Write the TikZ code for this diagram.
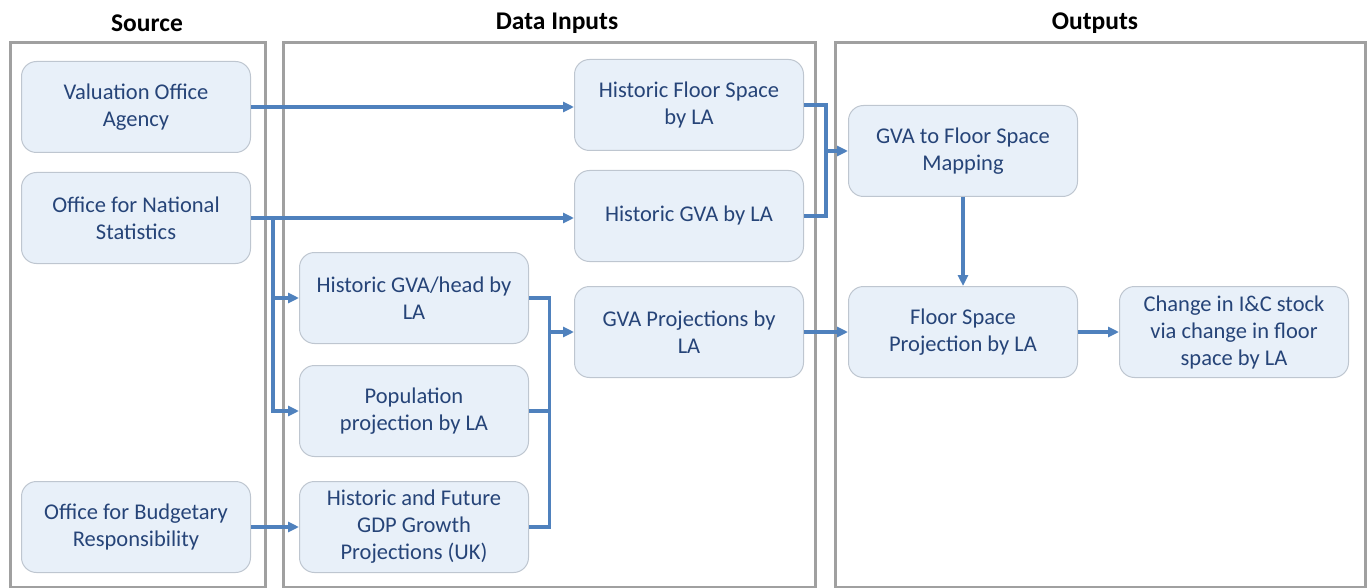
\documentclass[tikz,border=0pt]{standalone}
\usepackage{fontspec}
\setmainfont{Carlito}
\usepackage{tikz}
\usetikzlibrary{calc,arrows.meta}
\definecolor{flowink}{RGB}{79, 129, 189}
\definecolor{boxfill}{RGB}{232, 240, 249}
\definecolor{boxline}{RGB}{190, 198, 208}
\definecolor{textink}{RGB}{38, 68, 120}
\definecolor{frameink}{RGB}{160, 160, 160}

\begin{document}
\begin{tikzpicture}[x=1pt, y=-1pt,
  stagebox/.style={draw=boxline, line width=1pt, fill=boxfill, rounded corners=15pt,
    minimum width=229pt, minimum height=91pt, align=center, text=textink,
    font=\fontsize{22.5}{27}\selectfont},
  panel/.style={draw=frameink, line width=3pt},
  heading/.style={font=\fontsize{25.5}{30}\selectfont\bfseries},
  flow/.style={draw=flowink, line width=3.5pt},
  arr/.style={flow, -{Triangle[length=11pt, width=10pt]}}]
  \useasboundingbox (0,0) rectangle (1367,588);
  % three panels
  \draw[panel] (10,43) rectangle (265,587);
  \draw[panel] (283,43) rectangle (815,587);
  \draw[panel] (835,43) rectangle (1365,587);
  \node[heading] (tsrc) at (147,23) {Source};
  \node[heading] (tin) at (557,23) {Data Inputs};
  \node[heading] (tout) at (1095,23) {Outputs};
  % sources
  \node[stagebox] (voa) at (136,107) {Valuation Office\\Agency};
  \node[stagebox] (ons) at (136,218) {Office for National\\Statistics};
  \node[stagebox] (obr) at (136,527) {Office for Budgetary\\Responsibility};
  % data inputs
  \node[stagebox] (hfs) at (689,105) {Historic Floor Space\\by LA};
  \node[stagebox] (hgva) at (689,216) {Historic GVA by LA};
  \node[stagebox] (gvahead) at (414,298) {Historic GVA/head by\\LA};
  \node[stagebox] (pop) at (414,411) {Population\\projection by LA};
  \node[stagebox] (gdp) at (414,527) {Historic and Future\\GDP Growth\\Projections (UK)};
  \node[stagebox] (gvaproj) at (689,332) {GVA Projections by\\LA};
  % outputs
  \node[stagebox] (map) at (963,151) {GVA to Floor Space\\Mapping};
  \node[stagebox] (fsproj) at (963,332) {Floor Space\\Projection by LA};
  \node[stagebox] (change) at (1234,332) {Change in I\&C stock\\via change in floor\\space by LA};
  % connectors
  \coordinate (onsbr) at ($(ons.east)+(22,0)$);
  \coordinate (mergeA) at ($(gvahead.east)!0.45!(gvaproj.west)$);
  \coordinate (mergeB) at ($(hfs.east)!0.5!(map.west)$);
  \draw[arr] (voa.east) -- (voa.east -| hfs.west);
  \draw[arr] (ons.east) -- (ons.east -| hgva.west);
  \draw[arr] (onsbr) |- (gvahead.west);
  \draw[arr] (onsbr) |- (pop.west);
  \draw[arr] (obr.east) -- (gdp.west);
  \draw[flow] (gvahead.east) -| (mergeA |- gdp.east) -- (gdp.east);
  \draw[flow] (pop.east) -- (pop.east -| mergeA);
  \draw[arr] (mergeA |- gvaproj.west) -- (gvaproj.west);
  \draw[flow] (hfs.east) -| (mergeB |- hgva.east) -- (hgva.east);
  \draw[arr] (mergeB |- map.west) -- (map.west);
  \draw[arr] (gvaproj.east) -- (fsproj.west);
  \draw[arr] (map.south) -- (fsproj.north);
  \draw[arr] (fsproj.east) -- (change.west);
\end{tikzpicture}
\end{document}
